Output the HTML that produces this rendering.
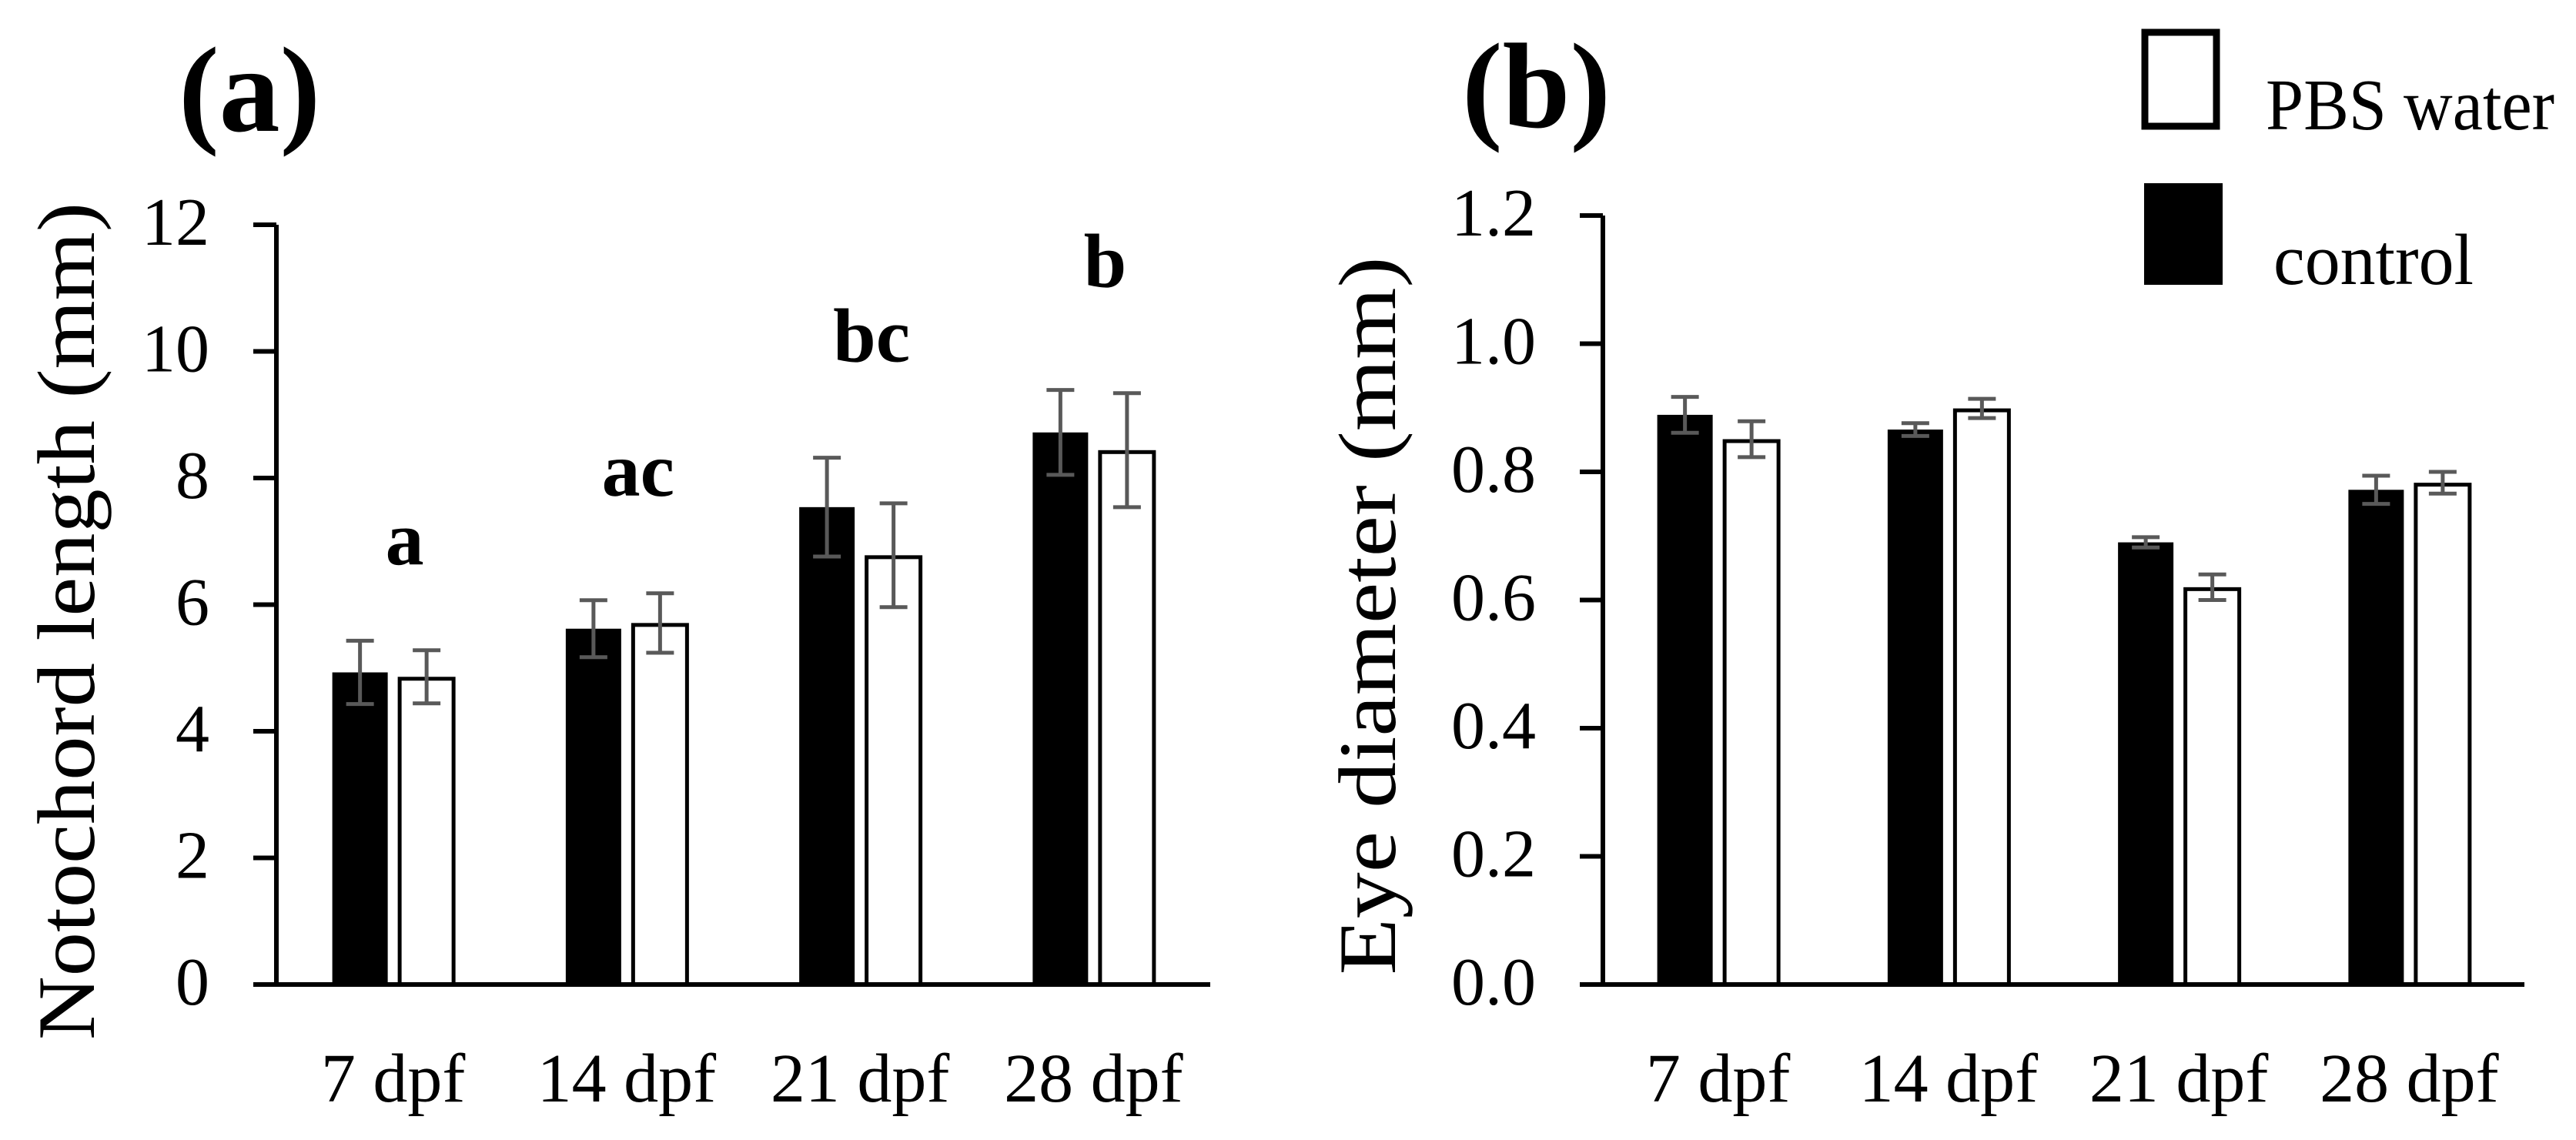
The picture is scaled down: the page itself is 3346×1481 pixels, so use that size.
<!DOCTYPE html>
<html><head><meta charset="utf-8"><style>
html,body{margin:0;padding:0;background:#fff;}
svg{display:block;}
text{font-family:"Liberation Serif",serif;fill:#000;}
</style></head><body>
<svg id="chart" width="3346" height="1481" viewBox="0 0 3346 1481" xmlns="http://www.w3.org/2000/svg">
<text x="232" y="170" font-size="158" font-weight="bold">(a)</text>
<text x="1899" y="165" font-size="158" font-weight="bold">(b)</text>
<text transform="translate(122,807) rotate(-90)" text-anchor="middle" font-size="106" textLength="1088" lengthAdjust="spacingAndGlyphs">Notochord length (mm)</text>
<text transform="translate(1812,800) rotate(-90)" text-anchor="middle" font-size="106" textLength="933" lengthAdjust="spacingAndGlyphs">Eye diameter (mm)</text>
<g>
<rect x="2786" y="42" width="93" height="122" fill="#fff" stroke="#000" stroke-width="9"/>
<text x="2943" y="168" font-size="94" textLength="375" lengthAdjust="spacingAndGlyphs">PBS water</text>
<rect x="2785" y="238" width="102" height="132" fill="#000"/>
<text x="2953" y="369" font-size="94" textLength="260" lengthAdjust="spacingAndGlyphs">control</text>
</g>
<g id="pa"></g>
<g id="pb"></g>
</svg>
<script>
const categories = ["7 dpf","14 dpf","21 dpf","28 dpf"];
const notoControl = [4.93, 5.62, 7.54, 8.72];
const notoControlErr = [0.5, 0.45, 0.78, 0.67];
const notoPbs = [4.86, 5.71, 6.78, 8.44];
const notoPbsErr = [0.42, 0.47, 0.82, 0.9];
const notoTicks = ["0","2","4","6","8","10","12"];
const notoTickValues = [0,2,4,6,8,10,12];
const sigLetters = ["a","ac","bc","b"];
const sigLetterValues = [6.63, 7.72, 9.84, 11.02];
const eyeControl = [0.889, 0.866, 0.69, 0.772];
const eyeControlErr = [0.028, 0.01, 0.008, 0.022];
const eyePbs = [0.851, 0.899, 0.62, 0.783];
const eyePbsErr = [0.028, 0.015, 0.02, 0.017];
const eyeTicks = ["0.0","0.2","0.4","0.6","0.8","1.0","1.2"];
const eyeTickValues = [0,0.2,0.4,0.6,0.8,1.0,1.2];

const NS = "http://www.w3.org/2000/svg";
function mk(parent, tag, attrs){ const e=document.createElementNS(NS,tag); for(const k in attrs) e.setAttribute(k,attrs[k]); parent.appendChild(e); return e; }

function drawChart(g, cfg){
  const x0=cfg.x0, x1=cfg.x1, yTop=cfg.yTop, yZero=1279;
  const yScale = v => yZero - (v/cfg.max)*(yZero-yTop);
  const bw=(x1-x0)/categories.length;
  const xCenter = i => x0 + bw*(i+0.5);
  // bars
  categories.forEach((c,i)=>{
    const cx=xCenter(i);
    const yb=yScale(cfg.ctrl[i]);
    const b=mk(g,'rect',{x:cx-79,y:yb,width:72,height:yZero-yb,fill:'#000'});
    
    
    const yw=yScale(cfg.pbs[i]);
    const w=mk(g,'rect',{x:cx+8.5,y:yw+2.5,width:70,height:yZero-yw-2.5,fill:'#fff',stroke:'#000','stroke-width':5});
    
    
  });
  // axes
  const ax=mk(g,'line',{x1:x0,y1:yTop,x2:x0,y2:yZero+3,stroke:'#000','stroke-width':6});
  
  
  const bx=mk(g,'line',{x1:x0-30,y1:yZero,x2:x1,y2:yZero,stroke:'#000','stroke-width':6});
  
  
  cfg.tickValues.forEach((v,k)=>{
    const y=yScale(v);
    const t=mk(g,'line',{x1:x0-30,y1:y,x2:x0,y2:y,stroke:'#000','stroke-width':6});
    
    
    const l=mk(g,'text',{x:cfg.labelX,y:y+26,'text-anchor':'end','font-size':88});
    l.textContent=cfg.ticks[k];
    
    
  });
  // error bars
  categories.forEach((c,i)=>{
    const cx=xCenter(i);
    [[cx-43,cfg.ctrl[i],cfg.ctrlErr[i]],[cx+43.5,cfg.pbs[i],cfg.pbsErr[i]]].forEach((d,j)=>{
      const yh=yScale(d[1]+d[2]), yl=yScale(d[1]-d[2]);
      const e=mk(g,'path',{d:`M${d[0]},${yh}V${yl}M${d[0]-18},${yh}H${d[0]+18}M${d[0]-18},${yl}H${d[0]+18}`,stroke:'#595959','stroke-width':5,fill:'none'});
      
      
    });
    const xl=mk(g,'text',{x:cx,y:1431,'text-anchor':'middle','font-size':90});
    xl.textContent=c;
    
    
    if(cfg.letters){
      const s=mk(g,'text',{x:cx+15,y:yScale(sigLetterValues[i]),'text-anchor':'middle','font-size':100,'font-weight':'bold'});
      s.textContent=sigLetters[i];
      
      
    }
  });
}
drawChart(document.getElementById('pa'),{x0:359,x1:1572,yTop:292,max:12,ctrl:notoControl,ctrlErr:notoControlErr,pbs:notoPbs,pbsErr:notoPbsErr,ticks:notoTicks,tickValues:notoTickValues,labelX:272,letters:true});
drawChart(document.getElementById('pb'),{x0:2082,x1:3279,yTop:280,max:1.2,ctrl:eyeControl,ctrlErr:eyeControlErr,pbs:eyePbs,pbsErr:eyePbsErr,ticks:eyeTicks,tickValues:eyeTickValues,labelX:1995,letters:false});
</script>
</body></html>
